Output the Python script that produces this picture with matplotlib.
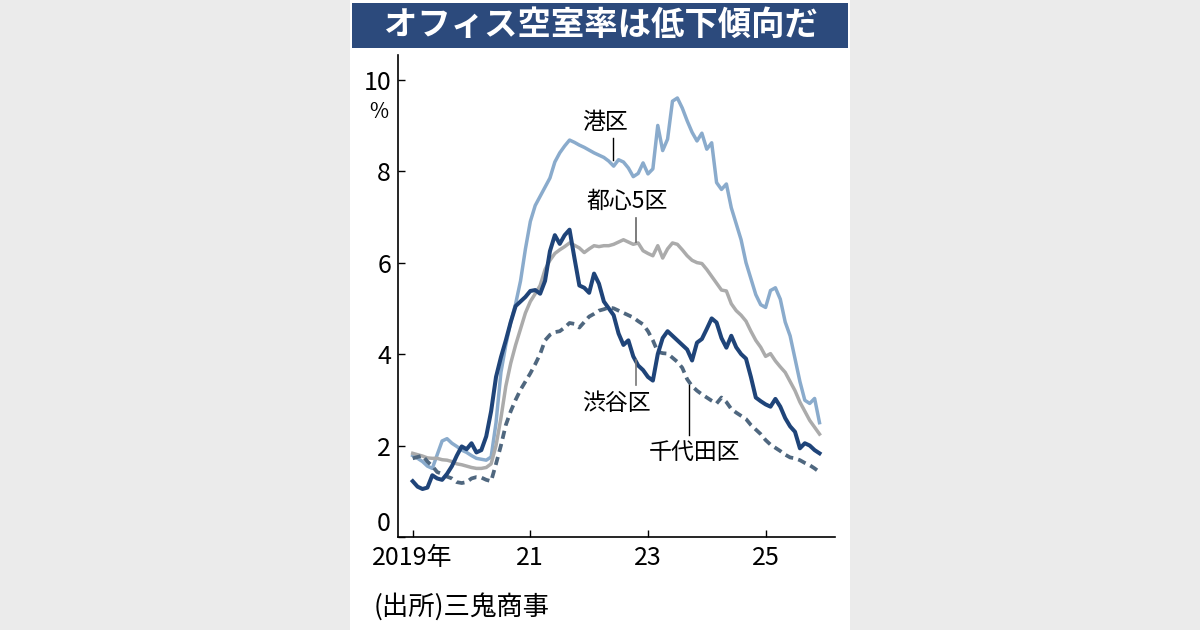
import numpy as np
import pandas as pd
import matplotlib
matplotlib.use("Agg")
from matplotlib import pyplot as plt
from matplotlib.patches import Rectangle

plt.rcParams['font.family'] = ['Noto Sans CJK JP', 'DejaVu Sans']

# Monthly office vacancy rate (%), Jan 2019 - Dec 2025
months = pd.date_range('2019-01-01', periods=84, freq='MS')

minato = [1.78, 1.72, 1.65, 1.55, 1.5, 1.8, 2.1, 2.15, 2.05, 1.98, 1.9, 1.85,
          1.78, 1.72, 1.7, 1.68, 1.75, 2.5, 3.6, 4.2, 4.7, 5.1, 5.6, 6.3,
          6.9, 7.25, 7.45, 7.65, 7.85, 8.2, 8.4, 8.55, 8.68, 8.63, 8.57, 8.52,
          8.46, 8.4, 8.35, 8.3, 8.22, 8.11, 8.25, 8.2, 8.07, 7.88, 7.95, 8.18,
          7.94, 8.05, 9.0, 8.45, 8.7, 9.53, 9.6, 9.38, 9.1, 8.85, 8.66, 8.83,
          8.48, 8.62, 7.75, 7.6, 7.72, 7.2, 6.85, 6.5, 6.0, 5.65, 5.3, 5.08,
          5.02, 5.39, 5.45, 5.2, 4.7, 4.4, 3.9, 3.4, 2.99, 2.92, 3.03, 2.5]

toshin5 = [1.83, 1.8, 1.77, 1.73, 1.72, 1.72, 1.69, 1.68, 1.65, 1.6, 1.58, 1.55,
           1.52, 1.5, 1.5, 1.52, 1.6, 2.0, 2.6, 3.3, 3.8, 4.2, 4.55, 4.9,
           5.15, 5.32, 5.5, 5.85, 6.05, 6.2, 6.28, 6.35, 6.43, 6.38, 6.32, 6.22,
           6.3, 6.37, 6.35, 6.37, 6.37, 6.4, 6.45, 6.5, 6.45, 6.4, 6.43, 6.26,
           6.2, 6.15, 6.37, 6.1, 6.3, 6.43, 6.4, 6.28, 6.15, 6.05, 6.0, 5.98,
           5.85, 5.7, 5.55, 5.4, 5.38, 5.1, 4.95, 4.85, 4.72, 4.5, 4.3, 4.15,
           3.95, 4.01, 3.85, 3.72, 3.6, 3.4, 3.2, 2.95, 2.75, 2.55, 2.4, 2.25]

shibuya = [1.22, 1.1, 1.05, 1.08, 1.35, 1.28, 1.25, 1.38, 1.55, 1.78, 1.98, 1.92,
           2.05, 1.85, 1.9, 2.2, 2.75, 3.5, 3.93, 4.3, 4.7, 5.05, 5.15, 5.25,
           5.38, 5.4, 5.32, 5.6, 6.25, 6.6, 6.41, 6.6, 6.72, 6.1, 5.5, 5.45,
           5.34, 5.76, 5.54, 5.15, 5.0, 4.85, 4.45, 4.2, 4.3, 3.95, 3.75, 3.65,
           3.5, 3.42, 4.0, 4.35, 4.5, 4.4, 4.3, 4.2, 4.1, 3.86, 4.25, 4.33,
           4.55, 4.78, 4.69, 4.35, 4.14, 4.4, 4.15, 4.0, 3.9, 3.5, 3.05, 2.97,
           2.9, 2.85, 3.02, 2.85, 2.6, 2.42, 2.3, 1.94, 2.05, 2.0, 1.9, 1.83]

chiyoda = [1.72, 1.75, 1.78, 1.65, 1.55, 1.42, 1.38, 1.32, 1.28, 1.2, 1.18, 1.2,
           1.28, 1.31, 1.3, 1.25, 1.22, 1.6, 2.0, 2.45, 2.75, 3.0, 3.22, 3.4,
           3.58, 3.78, 4.0, 4.3, 4.42, 4.48, 4.5, 4.58, 4.68, 4.66, 4.58, 4.7,
           4.82, 4.88, 4.95, 4.98, 5.02, 5.0, 4.95, 4.9, 4.85, 4.8, 4.72, 4.65,
           4.5, 4.3, 4.05, 4.02, 4.01, 3.92, 3.83, 3.7, 3.45, 3.3, 3.2, 3.12,
           3.05, 2.98, 2.92, 3.05, 2.95, 2.8, 2.72, 2.65, 2.58, 2.45, 2.35, 2.25,
           2.12, 2.02, 1.95, 1.88, 1.8, 1.74, 1.72, 1.68, 1.62, 1.57, 1.5, 1.42]

x_ticks = [2019, 2021, 2023, 2025]
x_tick_labels = ['2019年', '21', '23', '25']
y_ticks = [0, 2, 4, 6, 8, 10]

x = months.year + (months.month - 1) / 12

fig = plt.figure(figsize=(12, 6.3), dpi=100, facecolor='#ebebeb')

# White panel and title bar
fig.patches.append(Rectangle((350 / 1200, 0), 500 / 1200, 1, transform=fig.transFigure,
                             facecolor='white', edgecolor='none', zorder=0))
fig.patches.append(Rectangle((352 / 1200, 1 - 48 / 630), 496 / 1200, 45 / 630,
                             transform=fig.transFigure, facecolor='#2c4a7c',
                             edgecolor='none', zorder=1))
fig.text(601 / 1200, 1 - 25 / 630, 'オフィス空室率は低下傾向だ', color='white',
         fontsize=24, fontweight='bold', ha='center', va='center', zorder=3)

ax = fig.add_axes([398 / 1200, 1 - 537 / 630, 437 / 1200, 482 / 630], zorder=2)
ax.set_facecolor('none')

ax.plot(x, minato, color='#8aabcc', lw=2.5, zorder=3)
ax.plot(x, toshin5, color='#ababab', lw=2.5, zorder=3)
ax.plot(x, chiyoda, color='#4f677f', lw=2.7, ls=(0, (2.2, 1.4)), zorder=4)
ax.plot(x, shibuya, color='#1f4479', lw=2.9, zorder=5)

ax.set_xlim(2018.75, 2026.18)
ax.set_ylim(0, 10.54)
ax.set_xticks(x_ticks)
ax.set_xticklabels(x_tick_labels)
ax.set_yticks(y_ticks)
ax.tick_params(direction='in', length=5, width=1, labelsize=18, color='black')
ax.tick_params(axis='x', pad=6)
ax.tick_params(axis='y', pad=5)
# the zero label sits just above the x axis
ax.get_yticklabels()[0].set_va('bottom')

for side in ['top', 'right']:
    ax.spines[side].set_visible(False)
for side in ['left', 'bottom']:
    ax.spines[side].set_linewidth(1.2)

ax.text(-0.045, 0.882, '%', transform=ax.transAxes, fontsize=15, ha='center', va='center')

# Series labels with vertical leader lines
label_kw = dict(fontsize=16.5, ha='center', va='center')
ax.text(2022.27, 9.07, '港区', **label_kw)
ax.plot([2022.41, 2022.41], [8.24, 8.73], color='black', lw=1, zorder=6)
ax.text(2022.65, 7.33, '都心5区', **label_kw)
ax.plot([2022.80, 2022.80], [6.45, 6.98], color='#666666', lw=1.2, zorder=6)
ax.text(2022.47, 2.93, '渋谷区', **label_kw)
ax.plot([2022.80, 2022.80], [3.32, 3.87], color='#777777', lw=1.2, zorder=6)
ax.text(2023.80, 1.84, '千代田区', **label_kw)
ax.plot([2023.70, 2023.70], [2.23, 3.32], color='black', lw=1, zorder=6)

fig.text(374 / 1200, 1 - 607 / 630, '(出所)三鬼商事', fontsize=19, ha='left', va='center')

fig.savefig('out.png', dpi=100, facecolor=fig.get_facecolor())
